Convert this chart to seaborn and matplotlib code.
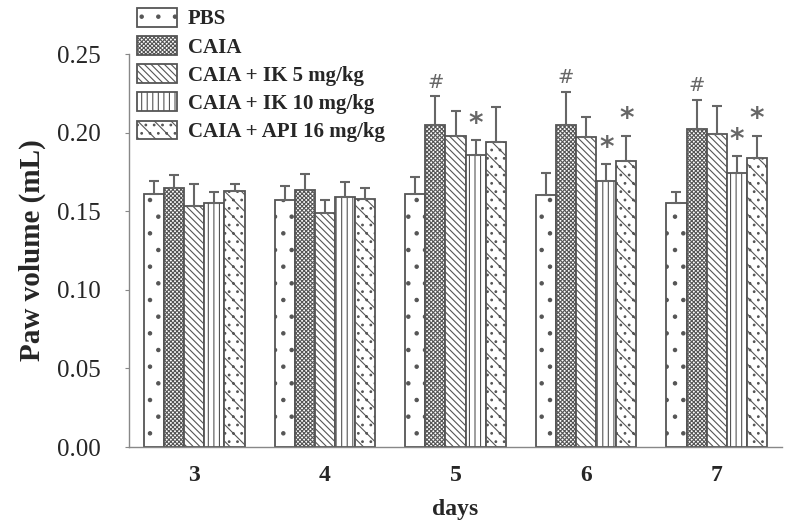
import numpy as np
import pandas as pd
import matplotlib
matplotlib.use('Agg')
import matplotlib.pyplot as plt
from matplotlib.patches import Patch
import seaborn as sns

sns.set_style('white')
plt.rcParams['font.family'] = ['Liberation Serif', 'DejaVu Serif']
plt.rcParams['hatch.linewidth'] = 0.8

# data
days = ['3', '4', '5', '6', '7']
groups = ['PBS', 'CAIA', 'CAIA + IK 5 mg/kg', 'CAIA + IK 10 mg/kg', 'CAIA + API 16 mg/kg']
pbs = [0.161, 0.157, 0.161, 0.1605, 0.155]
pbs_err = [0.008, 0.009, 0.011, 0.014, 0.0075]
caia = [0.165, 0.1635, 0.205, 0.205, 0.202]
caia_err = [0.008, 0.010, 0.018, 0.021, 0.019]
ik5 = [0.153, 0.149, 0.198, 0.197, 0.199]
ik5_err = [0.014, 0.008, 0.016, 0.013, 0.018]
ik10 = [0.155, 0.159, 0.186, 0.169, 0.174]
ik10_err = [0.007, 0.0095, 0.009, 0.011, 0.011]
api = [0.163, 0.158, 0.194, 0.182, 0.184]
api_err = [0.0045, 0.007, 0.022, 0.016, 0.014]

# significance marks per group and day
pbs_sig = ['', '', '', '', '']
caia_sig = ['', '', '#', '#', '#']
ik5_sig = ['', '', '', '', '']
ik10_sig = ['', '', '*', '*', '*']
api_sig = ['', '', '', '*', '*']

means = [pbs, caia, ik5, ik10, api]
errs = [pbs_err, caia_err, ik5_err, ik10_err, api_err]
sigs = [pbs_sig, caia_sig, ik5_sig, ik10_sig, api_sig]

df = pd.DataFrame({
    'day': days * len(groups),
    'group': np.repeat(groups, len(days)),
    'vol': np.concatenate(means),
})

hatches = ['.', 'xxxxxxxx', '\\\\\\\\\\', '|||', '\\\\..']
edge = '#555555'
grey = '#666666'

fig = plt.figure(figsize=(7.93, 5.30), dpi=100)
ax = fig.add_axes([129 / 793, 0.1566, (782 - 129) / 793, 0.7415])

sns.barplot(data=df, x='day', y='vol', hue='group', hue_order=groups,
            palette=['white'] * len(groups), width=0.77, gap=0,
            errorbar=None, legend=False, ax=ax)

bar_sets = list(ax.containers)
for k, cont in enumerate(bar_sets):
    for j, bar in enumerate(cont.patches):
        bar.set_hatch(hatches[k])
        bar.set_edgecolor(edge)
        bar.set_linewidth(1.3)
        xc = bar.get_x() + bar.get_width() / 2
        h = bar.get_height()
        ax.errorbar(xc, h, yerr=[[0], [errs[k][j]]], fmt='none', ecolor=grey,
                    elinewidth=1.5, capsize=3.5, capthick=1.5, zorder=1)
        s = sigs[k][j]
        if s == '#':
            ax.text(xc, h + errs[k][j] + 0.003, s, ha='center', va='bottom',
                    color=grey, fontsize=14, family='DejaVu Sans')
        elif s == '*':
            ax.text(xc, h + errs[k][j] + 0.0015, s, ha='center', va='bottom',
                    color=grey, fontsize=20, fontweight='bold', family='DejaVu Sans')

ax.set_ylim(0, 0.25)
ax.set_xlim(-0.5, 4.5)
ax.set_yticks([0, 0.05, 0.10, 0.15, 0.20, 0.25])
ax.set_yticklabels(['%.2f' % v for v in [0, 0.05, 0.10, 0.15, 0.20, 0.25]], fontsize=18)
ax.set_xticks(range(len(days)))
ax.set_xticklabels(days, fontsize=17, fontweight='bold')
ax.set_xticks(np.arange(-0.5, 5, 1), minor=True)
ax.tick_params(axis='x', which='major', length=0, pad=13)
ax.tick_params(axis='x', which='minor', length=4, color='#888888', direction='out')
ax.tick_params(axis='y', length=3, color='#888888', direction='out', pad=17, left=True)

for side in ['top', 'right']:
    ax.spines[side].set_visible(False)
for side in ['left', 'bottom']:
    ax.spines[side].set_color('#888888')
    ax.spines[side].set_linewidth(1)

ax.set_xlabel('days', fontsize=17, fontweight='bold', labelpad=9)
ax.set_ylabel('Paw volume (mL)', fontsize=21, fontweight='bold', labelpad=8)

handles = [Patch(facecolor='white', edgecolor=edge, hatch=hatches[k], linewidth=1.3, label=groups[k])
           for k in range(len(groups))]
fig.legend(handles=handles, loc='upper left', bbox_to_anchor=(137 / 793, 1 - 8 / 530),
           frameon=False, borderpad=0, borderaxespad=0, handlelength=1.9, handleheight=1.0,
           labelspacing=0.32, handletextpad=0.53, prop={'weight': 'bold', 'size': 15})

fig.savefig('out.png', dpi=100)
